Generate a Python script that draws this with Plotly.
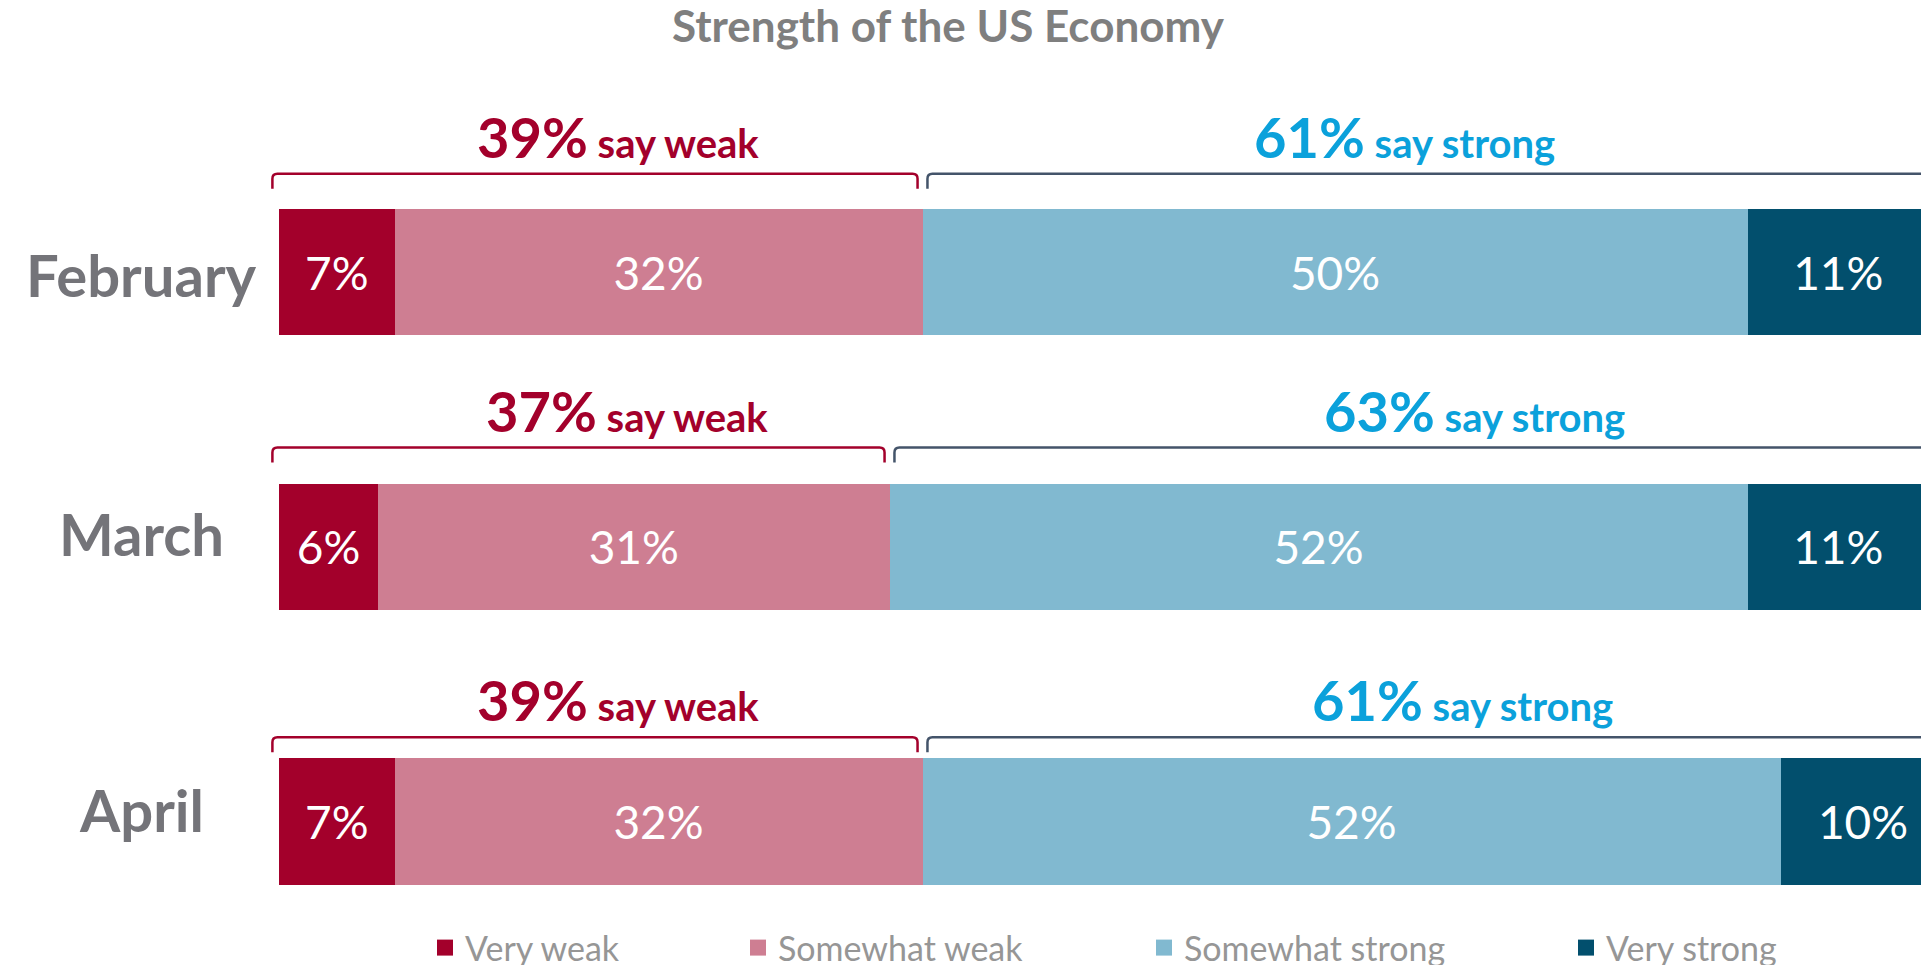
import plotly.graph_objects as go

# ---------------- data ----------------
MONTHS = ["February", "March", "April"]
SERIES_NAMES = ["Very weak", "Somewhat weak", "Somewhat strong", "Very strong"]
VERY_WEAK = [7, 6, 7]
SOMEWHAT_WEAK = [32, 31, 32]
SOMEWHAT_STRONG = [50, 52, 52]
VERY_STRONG = [11, 11, 10]
WEAK_TOTAL = [39, 37, 39]
STRONG_TOTAL = [61, 63, 61]
TITLE = "Strength of the US Economy"

# ---------------- styling / layout ----------------
W, H = 1921, 965
FONT = "Lato"
COLORS = ["#A3002B", "#CE7E92", "#81B9D0", "#024F6D"]
WEAK_TXT = "#A3002B"
STRONG_TXT = "#0BA1DB"
WEAK_BRACKET = "#A3002B"
STRONG_BRACKET = "#44546A"
LABEL_GRAY = "#747479"
TITLE_GRAY = "#7F7F7F"
LEGEND_GRAY = "#969696"

PX_PER_PCT = 16.5
BAR_LEFT_PX = 279
ROW_PX = 274.75
FIRST_ROW_PX = 272
BAR_W = 0.46
BRACKET_GAP_PX = [35, 36, 21]       # hand-placed brackets in the original slide
TICK_PX = 15
WEAK_NUDGE_PX = [-8, 18, -8]         # hand-placed text boxes in the original slide
STRONG_NUDGE_PX = [-46, 40, 12]
MONTH_YSHIFT_PX = [-2, 13, 12]

x_range = [-BAR_LEFT_PX / PX_PER_PCT, (W - BAR_LEFT_PX) / PX_PER_PCT]
y_top = -FIRST_ROW_PX / ROW_PX
y_bot = (H - FIRST_ROW_PX) / ROW_PX

rows = list(range(len(MONTHS)))
series = [VERY_WEAK, SOMEWHAT_WEAK, SOMEWHAT_STRONG, VERY_STRONG]

fig = go.Figure()
for name, vals, col in zip(SERIES_NAMES, series, COLORS):
    fig.add_trace(go.Bar(
        x=vals, y=rows, orientation="h", name=name,
        marker=dict(color=col, line=dict(width=0)),
        width=BAR_W,
        text=[f"{v}%" for v in vals],
        textposition="inside", insidetextanchor="middle",
        textangle=0, constraintext="none",
        textfont=dict(family=FONT, size=46, color="white"),
        showlegend=False, hoverinfo="skip",
    ))

legend_keys = ["legend", "legend2", "legend3", "legend4"]
for name, col, lk in zip(SERIES_NAMES, COLORS, legend_keys):
    fig.add_trace(go.Scatter(
        x=[None], y=[None], mode="markers", name=name,
        marker=dict(symbol="square", size=20, color=col),
        legend=lk, showlegend=True, hoverinfo="skip",
    ))

legend_px = [437, 750, 1156, 1578]
legend_common = dict(
    orientation="h", xanchor="left", yanchor="middle",
    xref="container", yref="container",
    y=1 - 948 / H, bgcolor="rgba(0,0,0,0)", borderwidth=0,
    font=dict(family=FONT, size=34, color=LEGEND_GRAY),
    itemclick=False, itemdoubleclick=False,
)
legend_layout = {}
for lk, px in zip(legend_keys, legend_px):
    legend_layout[lk] = dict(x=(px - 12) / W, **legend_common)

shapes = []
annotations = []
px_y = 1 / ROW_PX
for i, m in enumerate(MONTHS):
    top = i - BAR_W / 2 - BRACKET_GAP_PX[i] * px_y
    bot = top + TICK_PX * px_y
    r = 5 * px_y
    rx = 5 / PX_PER_PCT

    def bracket(x0, x1, color):
        return dict(
            type="path", xref="x", yref="y",
            path=(f"M {x0},{bot} L {x0},{top + r} Q {x0},{top} {x0 + rx},{top} "
                  f"L {x1 - rx},{top} Q {x1},{top} {x1},{top + r} L {x1},{bot}"),
            line=dict(color=color, width=2.5),
        )

    w = WEAK_TOTAL[i]
    s = STRONG_TOTAL[i]
    shapes.append(bracket(-0.4, w - 0.3, WEAK_BRACKET))
    shapes.append(bracket(w + 0.3, 100.2, STRONG_BRACKET))

    annotations.append(dict(
        x=w / 2 + 1.5, y=top, xref="x", yref="y",
        xanchor="center", yanchor="bottom", yshift=2, xshift=WEAK_NUDGE_PX[i],
        showarrow=False,
        text=f"<b><span style='font-size:56px'>{w}%</span> say weak</b>",
        font=dict(family=FONT, size=40, color=WEAK_TXT),
    ))
    annotations.append(dict(
        x=w + s / 2 + 1.5, y=top, xref="x", yref="y",
        xanchor="center", yanchor="bottom", yshift=2, xshift=STRONG_NUDGE_PX[i],
        showarrow=False,
        text=f"<b><span style='font-size:56px'>{s}%</span> say strong</b>",
        font=dict(family=FONT, size=40, color=STRONG_TXT),
    ))
    annotations.append(dict(
        x=(141 - BAR_LEFT_PX) / PX_PER_PCT, y=i, xref="x", yref="y",
        xanchor="center", yanchor="middle", yshift=MONTH_YSHIFT_PX[i],
        showarrow=False,
        text=f"<b>{m}</b>",
        font=dict(family=FONT, size=58, color=LABEL_GRAY),
    ))

fig.update_layout(
    width=W, height=H,
    margin=dict(l=0, r=0, t=0, b=0, pad=0, autoexpand=False),
    paper_bgcolor="white", plot_bgcolor="white",
    barmode="stack",
    xaxis=dict(range=x_range, visible=False, fixedrange=True),
    yaxis=dict(range=[y_bot, y_top], visible=False, fixedrange=True),
    title=dict(
        text=f"<b>{TITLE}</b>", x=948 / W, y=1 - 27 / H,
        xanchor="center", yanchor="middle", xref="container", yref="container",
        font=dict(family=FONT, size=44, color=TITLE_GRAY),
    ),
    shapes=shapes,
    annotations=annotations,
    hovermode=False,
    **legend_layout,
)

fig.write_html("out.html", config={"displayModeBar": False},
               post_script="document.body.style.margin='0';")
